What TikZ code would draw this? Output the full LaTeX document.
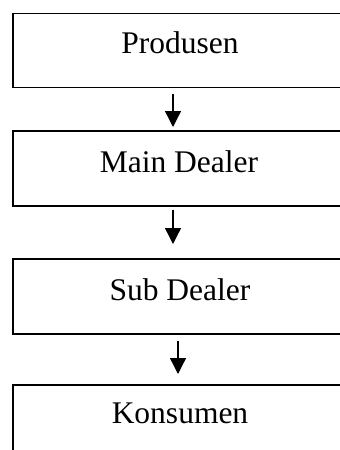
\documentclass[tikz,border=0pt]{standalone}
\usepackage{fontspec}
\setmainfont{Liberation Serif}
\usetikzlibrary{arrows.meta}
\begin{document}
\begin{tikzpicture}[x=1pt,y=1pt,
  box/.style={draw=black, line width=1.6pt, rectangle, anchor=north west,
    minimum width=380pt, inner sep=0pt},
  lbl/.style={anchor=base, inner sep=0pt, font=\fontsize{31.5}{36}\selectfont},
  arr/.style={line width=1.3pt, -{Triangle[width=16pt,length=16pt]}}]
\useasboundingbox (0,0) rectangle (340,-450);
\clip (0,0) rectangle (340,-450);
\node[box, minimum height=74pt] (b1) at (12,-12.5) {};
\node[box, minimum height=75pt] (b2) at (12,-130) {};
\node[box, minimum height=75pt] (b3) at (12,-258) {};
\node[box, minimum height=120pt] (b4) at (12,-384) {};
\node[lbl] (t1) at (180,-53.5) {Produsen};
\node[lbl] (t2) at (179,-172) {Main Dealer};
\node[lbl] (t3) at (180,-300) {Sub Dealer};
\node[lbl] (t4) at (180,-423) {Konsumen};
\coordinate (x1) at (173,0);
\coordinate (x2) at (173,0);
\coordinate (x3) at (178,0);
\draw[arr, shorten <=5.5pt, shorten >=3pt] (b1.south -| x1) -- (b2.north -| x1);
\draw[arr, shorten <=3pt, shorten >=14pt] (b2.south -| x2) -- (b3.north -| x2);
\draw[arr, shorten <=6pt, shorten >=10pt] (b3.south -| x3) -- (b4.north -| x3);
\end{tikzpicture}
\end{document}
